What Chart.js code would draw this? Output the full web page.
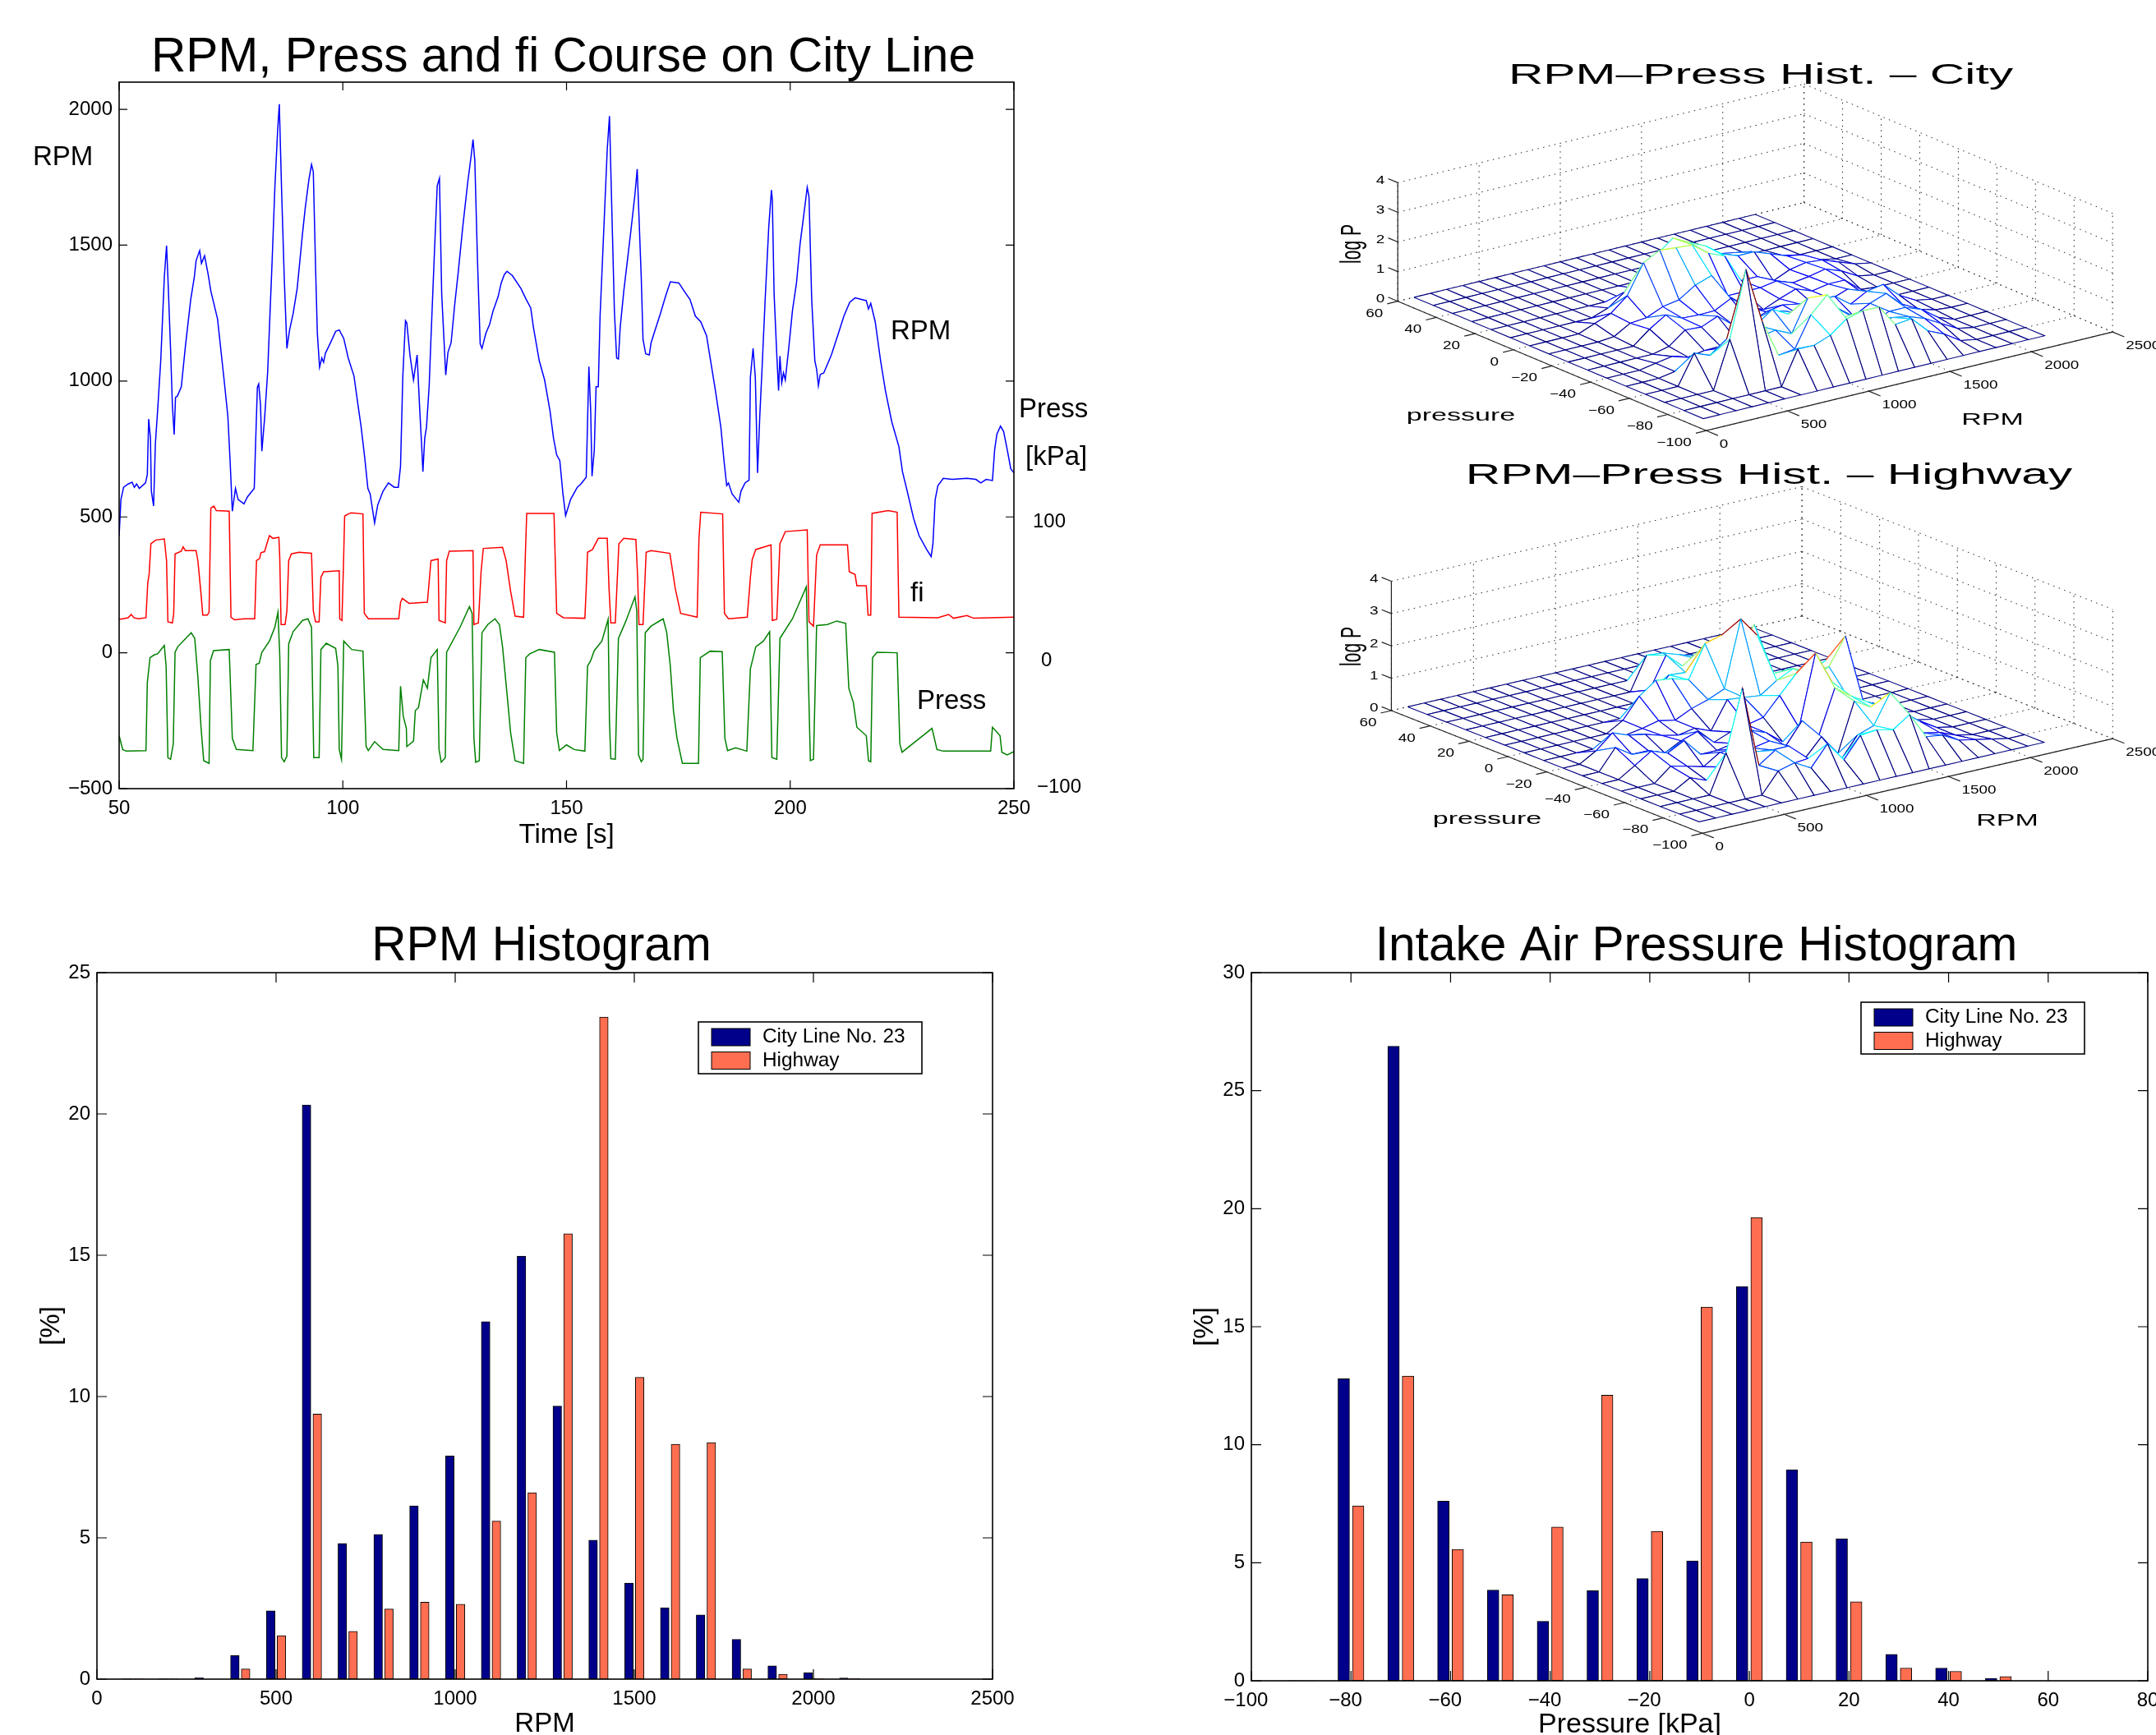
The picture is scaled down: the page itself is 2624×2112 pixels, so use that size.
<!DOCTYPE html>
<html>
<head>
<meta charset="utf-8">
<title>RPM and intake pressure charts</title>
<script src="https://cdn.jsdelivr.net/npm/chart.js@4"></script>
<style>
    html, body { margin: 0; width: 2624px; height: 2112px; background: #fff; overflow: hidden; }
    canvas { position: absolute; }
</style>
</head>
<body>
<canvas id="courseChart" width="1400" height="1100" style="left:0;top:0"></canvas>
<canvas id="cityMesh" width="1024" height="520" style="left:1600px;top:40px"></canvas>
<canvas id="highwayMesh" width="1024" height="520" style="left:1600px;top:540px"></canvas>
<canvas id="rpmHist" width="1300" height="1014" style="left:0;top:1101px"></canvas>
<canvas id="pressHist" width="1300" height="1014" style="left:1400px;top:1101px"></canvas>
<script>
// Time course, city line (left axis units, press and fi are scaled onto it)
const courseTicks = [-500,0,500,1000,1500,2000];
const rpmTime = [50,50.4,51,52,52.9,53.4,53.9,54.5,55.9,56.3,56.6,57,57.2,57.7,58.1,58.6,59.3,60.1,60.6,60.9,61.5,61.9,62.3,62.6,63,63.9,64.8,66,66.8,67.2,68,68.4,69.1,69.9,70.5,72,73.4,74.3,74.8,75.3,76,76.6,77.9,78.7,80.2,80.5,80.9,81.2,81.6,81.9,82.5,83.2,83.6,84.2,84.8,85.4,85.8,86.3,86.9,87.5,88.1,88.9,89.8,90.4,91,91.6,92.4,93,93.4,93.9,94.3,94.8,95.3,95.7,96.1,97.1,98.4,99.2,100.2,101.2,102.5,103.3,104.1,104.9,105.6,106.1,107.1,107.8,109,110.2,111.5,112.4,112.9,113.4,114,114.3,115,115.8,116.6,117.2,117.6,117.9,118.3,118.7,119.3,119.7,120.5,121.1,121.6,122.1,123,123.5,124.2,125,125.8,126.8,127.9,128.7,129.1,129.5,130.1,130.7,131.1,132,132.8,133.6,134.7,135.4,136.1,136.7,137.9,139.8,141,142,142.6,143.9,145.1,146.3,147.1,147.8,148.5,149.2,149.8,150.9,152.4,153.2,154.4,154.7,155,155.4,155.7,156.2,156.6,157.1,157.5,158.3,159.1,159.6,160.1,160.7,161.2,161.6,162,162.8,163.6,164.4,165.3,165.8,166.1,166.7,167.1,167.7,168.5,168.9,169.8,171,172.1,173.2,175.1,176.3,177.6,178.8,180,181.3,182.1,183.3,184.5,185.2,185.8,186.2,187,188.5,189,189.9,190.8,191.1,191.7,192.2,192.7,193.2,193.7,194.4,195.2,195.8,196,196.4,197,197.4,197.7,198.1,198.5,198.9,199.7,200.5,201.4,202.2,203,203.8,204.2,204.8,205.5,205.9,206.3,206.7,207.5,209.2,210.8,212,213.3,214.5,217,217.5,218,219,220.2,221.3,222.7,224.3,225.1,226,227.6,228.8,230.5,231.5,231.9,232.4,233,234.2,236.2,239.5,241.5,242.6,243.8,245.2,245.7,246.2,247,247.7,248.5,249.3,250];
const rpmValues = [431,564,609,621,628,609,621,605,625,656,860,789,595,540,769,891,1075,1382,1498,1382,1116,912,803,940,944,979,1126,1300,1382,1443,1480,1433,1461,1392,1331,1228,1014,871,707,521,605,564,548,574,605,769,977,989,912,742,860,1034,1198,1443,1709,1913,2019,1709,1382,1120,1188,1249,1341,1443,1545,1637,1739,1797,1770,1423,1177,1051,1085,1069,1102,1136,1183,1188,1157,1085,1018,922,830,717,605,585,478,544,595,625,609,609,687,1014,1222,1214,1096,1004,1096,891,769,666,789,830,983,1157,1484,1719,1746,1320,1022,1106,1141,1280,1402,1566,1729,1831,1889,1811,1443,1137,1120,1177,1208,1259,1310,1361,1392,1404,1388,1341,1300,1269,1198,1075,1004,891,789,728,707,585,505,564,609,621,646,850,1053,891,650,744,979,979,1239,1545,1852,1975,1647,1259,1085,1081,1198,1331,1443,1555,1688,1780,1647,1382,1153,1100,1096,1141,1188,1249,1310,1365,1361,1331,1300,1239,1218,1167,1085,963,830,707,615,625,585,554,595,625,636,1014,1120,1014,662,871,1044,1300,1566,1703,1668,1320,1096,965,1092,993,1030,1004,1126,1259,1361,1504,1607,1713,1678,1300,1075,1044,983,1024,1030,1096,1177,1239,1290,1306,1296,1265,1286,1218,1075,963,850,758,666,605,493,431,380,354,401,564,615,642,638,642,638,625,638,634,748,805,834,814,748,677,662];

const fiTime = [50,52,52.7,53.3,54.3,56,56.4,56.7,57.1,58.2,60.1,60.6,60.9,61.9,62.2,62.5,63.9,64.3,64.8,67.2,67.6,68.3,68.7,69.7,70.1,70.5,71.2,71.7,74.6,75,75.8,77.9,80.3,80.7,81.4,81.7,82.5,83.2,83.6,84.4,85.7,85.9,86.2,87.1,87.5,87.9,88.5,90.2,93,93.4,93.9,94.7,95.1,95.7,99.2,99.3,99.8,100.2,100.4,101.2,101.9,104.5,104.8,105.7,109,112.5,112.9,113.3,114.8,118.9,119.7,121.3,121.5,122.9,123.2,123.8,129.1,129.3,130.3,130.9,131.4,135.7,136.5,137.5,138.5,140.4,140.8,141.1,147.2,147.8,149.3,154.1,154.4,154.7,155.8,157.1,159.1,159.5,159.9,160.9,161.7,162.8,165.5,165.9,166.2,167.1,167.8,168.9,173.1,174.3,175.5,179.2,179.6,180,184.9,185.3,186.2,190.4,191.1,191.5,192.3,195.7,196,197,197.7,198.9,203.8,204.2,205.2,205.9,206.7,212.8,213.2,214.5,214.9,217,217.4,218,218.3,221.9,223.9,224.3,233,235.4,236.5,239.5,241,250];
const fiValues = [123,129,141,129,125,129,258,288,401,415,419,339,114,110,145,364,374,390,376,376,339,217,139,139,149,533,540,523,521,131,121,125,125,339,347,368,372,411,431,421,425,350,104,104,155,339,364,370,366,155,114,114,278,298,302,125,119,360,503,511,515,511,145,125,125,125,186,200,182,186,339,345,119,110,339,374,376,104,110,298,384,388,339,227,135,131,360,513,513,145,129,127,237,370,380,421,421,237,110,110,401,421,417,278,104,104,370,376,366,237,145,131,421,517,511,145,125,131,278,343,380,397,119,123,401,446,452,114,98,360,397,397,298,288,247,247,139,139,513,523,517,131,129,141,127,137,127,131];

const pressTime = [50,50.8,51.6,56,56.3,56.9,57.8,58.6,60.1,60.5,60.9,61.5,62.1,62.5,63.1,66.1,66.9,67.6,68.3,68.9,70.1,70.4,71.1,74.6,75.3,76.2,79.9,80.6,81.3,81.9,83.6,84.8,85.5,85.9,86.3,86.9,87.5,87.9,88.9,91,92.2,93,93.5,94.7,95.1,96.3,98.4,98.9,99.2,99.7,100.2,102,104.5,105.2,105.7,107.1,109,112.5,112.9,113.5,114.2,114.3,115.8,116.2,116.9,118,118.9,119.7,121.1,121.5,122,122.9,123.2,126.2,128.3,128.9,129.3,129.7,130.5,131.1,132.4,134,135,135.7,136.7,137.5,138.5,140.4,140.9,141.8,143.9,147.3,147.8,148.4,150,151.7,154.1,154.7,155.4,156.2,157.9,159.3,159.6,159.9,160.9,161.6,163.2,165.3,165.7,166.1,166.7,167.1,167.6,168.9,171.6,172.4,173.2,173.9,174.7,175.9,179.5,179.9,182.1,184.8,185.4,186,187.8,190.3,191.1,192.3,194,195.4,195.9,197,197.7,200.5,203.6,204,204.5,205.2,205.9,208.3,210.4,212.4,213.1,214.1,214.9,217,217.5,218,218.4,219.4,223.9,224.5,225,231.7,232.8,234.2,244.8,245.2,246.9,247.3,248.5,250];
const pressValues = [-305,-356,-362,-360,-110,-18,-8,-4,27,-49,-386,-392,-335,2,22,74,53,-90,-274,-397,-407,-29,8,12,-315,-356,-360,-43,-39,2,43,94,149,-8,-386,-401,-380,33,78,119,125,94,-386,-386,12,35,16,-49,-356,-392,43,12,6,-345,-360,-327,-356,-360,-123,-233,-278,-345,-325,-213,-202,-100,-131,-18,12,-356,-403,-386,2,94,170,145,-315,-403,-397,74,104,125,104,22,-151,-294,-397,-407,-18,-4,12,2,-294,-360,-339,-356,-362,-49,-29,8,43,123,-253,-390,-392,53,114,206,155,-376,-401,-392,74,98,125,74,-49,-213,-315,-407,-407,-18,6,4,-315,-360,-350,-362,-59,22,43,78,-386,-392,53,125,243,-49,-397,-392,100,104,117,108,-131,-182,-274,-305,-397,-401,-18,2,0,-335,-366,-278,-356,-362,-362,-274,-305,-366,-376,-364];

// RPM histogram, one value per 100 rpm bin [%]
const rpmBins = [100,200,300,400,500,600,700,800,900,1000,1100,1200,1300,1400,1500,1600,1700,1800,1900,2000,2100];
const rpmCity = [0.01,0.01,0.05,0.83,2.42,20.32,4.8,5.12,6.13,7.9,12.65,14.97,9.66,4.92,3.4,2.53,2.27,1.41,0.47,0.23,0.04];
const rpmHighway = [0.01,0.01,0,0.36,1.54,9.38,1.69,2.48,2.72,2.65,5.59,6.6,15.76,23.43,10.68,8.31,8.37,0.36,0.17,0.02,0.03];

// Intake pressure histogram, one value per 10 kPa bin [%]
const pressBins = [-90,-80,-70,-60,-50,-40,-30,-20,-10,0,10,20,30,40,50];
const pressCity = [0.01,12.8,26.88,7.61,3.84,2.52,3.82,4.33,5.08,16.7,8.94,6.02,1.12,0.54,0.1];
const pressHighway = [0.01,7.41,12.91,5.57,3.64,6.51,12.1,6.33,15.83,19.63,5.88,3.35,0.54,0.4,0.18];

// log P surfaces. Columns: meshRpm, rows: meshPress
const meshRpm = [100,200,300,400,500,600,700,800,900,1000,1100,1200,1300,1400,1500,1600,1700,1800,1900,2000,2100,2200];
const meshPress = [-90,-80,-70,-60,-50,-40,-30,-20,-10,0,10,20,30,40,50,60];
const cityLogP = [
    [0,0,0,0,0,0,0,0,0,0,0,0,0,0,0,0,0,0,0,0,0,0],
    [0,0,0,0,0,0,0,1.14,1.13,1.34,1.76,1.9,1.89,1.17,1.23,.69,.45,.1,0,0,0,0],
    [0,0,0,0,1.59,3.81,1.92,.66,.73,1.76,2.3,1.4,1,.9,1,.9,.7,.4,.1,0,0,0],
    [0,0,0,.99,.78,1.2,1.4,1,1.1,.85,1.92,1.2,1,.8,.6,.8,.8,.6,.2,0,0,0],
    [0,0,0,.1,.44,.3,.5,.8,1,1.4,1.1,.9,.7,.9,.5,.8,1,.5,.2,.05,0,0],
    [0,0,0,.1,.2,.04,.13,.14,.2,.4,.9,.8,.5,.9,.9,.5,.8,.9,.4,.1,0,0],
    [0,0,0,0,0,.13,.55,.52,.75,.31,.3,.5,.6,.5,.3,.4,.6,.3,.1,0,0,0],
    [0,0,0,0,0,.44,.79,.55,.52,.53,.81,.4,.17,.4,.6,.4,.5,.5,.05,0,0,0],
    [0,0,0,0,.05,.37,.42,.66,.76,1.12,1.31,.5,.5,.5,.6,.4,.48,.6,.4,.1,0,0],
    [0,0,0,0,.22,.43,.89,1.87,2.16,2.11,2.07,1.66,1.43,.47,.47,.2,.44,.55,.5,.3,.1,0],
    [0,0,0,0,0,0,.2,.6,1.2,1.6,2.03,1.75,1.5,1.1,.9,.9,.7,.5,.4,.1,0,0],
    [0,0,0,0,0,0,0,0,0,.2,.5,.8,.6,.5,.7,.6,.5,.2,.1,0,0,0],
    [0,0,0,0,0,0,0,0,0,0,0,0,0,.15,.2,.1,0,0,0,0,0,0],
    [0,0,0,0,0,0,0,0,0,0,0,0,0,0,0,0,0,0,0,0,0,0],
    [0,0,0,0,0,0,0,0,0,0,0,0,0,0,0,0,0,0,0,0,0,0],
    [0,0,0,0,0,0,0,0,0,0,0,0,0,0,0,0,0,0,0,0,0,0]
];
const highwayLogP = [
    [0,0,0,0,0,0,0,0,0,0,0,0,0,0,0,0,0,0,0,0,0,0],
    [0,0,0,0,0,0,.63,.77,.49,1.12,.51,1.15,1.2,1.09,1.44,.64,.57,.3,.2,.1,0,0],
    [0,0,0,0,1.18,3.07,.57,.92,.38,.43,0,.15,.8,.98,1.88,1.13,.4,.3,.1,0,0,0],
    [0,0,0,.3,.1,.4,.5,.64,.57,.58,.08,.63,0,1.5,1.2,1,.8,.4,.1,0,0,0],
    [0,0,0,.42,.3,.17,.5,.5,.4,.5,.22,.89,.28,1.67,1.3,1,.7,.4,.1,0,0,0],
    [0,0,.32,.65,.47,.74,.2,.2,.3,.6,.4,0,.32,2.51,1.5,.9,.5,.3,.1,0,0,0],
    [0,0,.64,.31,.31,.12,.38,.55,.1,.3,.4,.52,1.08,1.64,1.4,1.62,2.45,.32,.1,0,0,0],
    [0,0,.3,.74,.55,.46,.31,.2,.3,.1,.95,.9,.84,1.19,1.44,1.2,1.47,.9,0,0,0,0],
    [0,0,0,0,0,.2,.29,.41,.31,.55,.71,.93,2.97,2.35,1.05,1.08,.6,.3,0,0,0,0],
    [0,0,0,0,0,0,.3,.93,1.3,1.24,1.09,2.09,2.23,1.6,2.32,.5,.2,0,0,0,0,0],
    [0,0,0,0,0,0,0,0,.1,.5,1,.96,1.6,1.2,.4,.1,0,0,0,0,0,0],
    [0,0,0,0,0,0,0,0,0,0,.3,1.26,.8,.9,.6,.2,0,0,0,0,0,0],
    [0,0,0,0,0,0,0,0,0,0,0,1.02,.97,.8,.65,.2,0,0,0,0,0,0],
    [0,0,0,0,0,0,0,0,0,0,0,0,0,0,0,0,0,0,0,0,0,0],
    [0,0,0,0,0,0,0,0,0,0,0,0,0,0,0,0,0,0,0,0,0,0],
    [0,0,0,0,0,0,0,0,0,0,0,0,0,0,0,0,0,0,0,0,0,0]
];
const meshRpmTicks = [0,500,1000,1500,2000,2500];
const meshPressTicks = [-100,-80,-60,-40,-20,0,20,40,60];
const meshLogTicks = [0,1,2,3,4];

const FONT = '"Liberation Sans", Arial, sans-serif';
Chart.defaults.font.family = FONT;
Chart.defaults.color = '#000';
Chart.defaults.animation = false;
Chart.defaults.events = [];

const minus = v => String(v).replace('-', '\u2212');
// negative x labels sit a little left of their tick in the original
const minusLeft = v => minus(v) + (v < 0 ? '  ' : '');

function drawText(ctx, str, x, y, size, opts = {}) {
    ctx.save();
    ctx.translate(x, y);
    ctx.scale(opts.sx || 1, 1);
    if (opts.rot) ctx.rotate(opts.rot);
    ctx.font = size + 'px ' + FONT;
    ctx.fillStyle = '#000';
    ctx.textAlign = opts.align || 'left';
    ctx.textBaseline = opts.base || 'alphabetic';
    ctx.fillText(str, 0, 0);
    ctx.restore();
}

// MATLAB style box with ticks pointing inside, on all four sides
function boxPlugin(tickLen) {
    return {
        id: 'box',
        afterLayout(chart) {
            chart.titleBlock.left -= 8;
        },
        afterDatasetsDraw(chart) {
            const { ctx, chartArea: a, scales } = chart;
            ctx.save();
            ctx.strokeStyle = '#000';
            ctx.lineWidth = 1.6;
            ctx.strokeRect(a.left, a.top, a.right - a.left, a.bottom - a.top);
            ctx.lineWidth = 1.2;
            ctx.beginPath();
            scales.x.ticks.forEach(t => {
                const px = scales.x.getPixelForValue(t.value);
                ctx.moveTo(px, a.bottom); ctx.lineTo(px, a.bottom - tickLen);
                ctx.moveTo(px, a.top); ctx.lineTo(px, a.top + tickLen);
            });
            scales.y.ticks.forEach(t => {
                const py = scales.y.getPixelForValue(t.value);
                ctx.moveTo(a.left, py); ctx.lineTo(a.left + tickLen, py);
                ctx.moveTo(a.right, py); ctx.lineTo(a.right - tickLen, py);
            });
            ctx.stroke();
            ctx.restore();
        }
    };
}

function labelsPlugin(items) {
    return {
        id: 'labels',
        afterDraw(chart) {
            items.forEach(it => drawText(chart.ctx, it.text, it.x, it.y, it.size, it));
        }
    };
}

function legendPlugin(left, top) {
    return {
        id: 'histLegend',
        afterDatasetsDraw(chart) {
            const ctx = chart.ctx;
            ctx.save();
            ctx.fillStyle = '#fff';
            ctx.fillRect(left, top, 272, 63);
            ctx.strokeStyle = '#000';
            ctx.lineWidth = 1.6;
            ctx.strokeRect(left, top, 272, 63);
            chart.data.datasets.forEach((ds, k) => {
                ctx.fillStyle = ds.backgroundColor;
                ctx.lineWidth = 1;
                ctx.fillRect(left + 16, top + 8 + k * 28.5, 47, 21);
                ctx.strokeRect(left + 16, top + 8 + k * 28.5, 47, 21);
                drawText(ctx, ds.label, left + 78, top + 18.5 + k * 28.5, 24.4, { base: 'middle' });
            });
            ctx.restore();
        }
    };
}

// Time course chart
function pairs(xs, ys) {
    return xs.map((x, i) => ({ x: x, y: ys[i] }));
}

new Chart(document.getElementById('courseChart'), {
    type: 'scatter',
    data: {
        datasets: [
            { label: 'RPM', data: pairs(rpmTime, rpmValues), borderColor: '#0000ff' },
            { label: 'fi', data: pairs(fiTime, fiValues), borderColor: '#ff0000' },
            { label: 'Press', data: pairs(pressTime, pressValues), borderColor: '#008000' }
        ].map(d => Object.assign(d, { showLine: true, pointRadius: 0, borderWidth: 1.5, tension: 0 }))
    },
    options: {
        responsive: false,
        layout: { padding: { top: 42, right: 166, bottom: 40, left: 0 } },
        plugins: {
            legend: { display: false },
            tooltip: { enabled: false },
            title: {
                display: true, fullSize: false,
                text: 'RPM, Press and fi Course on City Line',
                font: { size: 58.6, weight: 'normal', lineHeight: 1 },
                padding: { top: 0, bottom: -0.6 }
            }
        },
        scales: {
            x: {
                type: 'linear', min: 50, max: 250,
                grid: { display: false, drawTicks: false }, border: { display: false },
                ticks: { stepSize: 50, padding: 10, maxRotation: 0, font: { size: 24 }, callback: minus },
                title: { display: true, text: 'Time [s]', font: { size: 33, lineHeight: 1 }, padding: { bottom: 27 } },
                afterFit: s => { s.height = 100; }
            },
            y: {
                min: -500, max: 2100,
                grid: { display: false, drawTicks: false }, border: { display: false },
                ticks: { padding: 8, font: { size: 24 }, callback: minus },
                afterBuildTicks: s => { s.ticks = courseTicks.map(v => ({ value: v })); },
                afterFit: s => { s.width = 145; }
            }
        }
    },
    plugins: [boxPlugin(10), labelsPlugin([
        { text: 'RPM', x: 40, y: 201, size: 33 },
        { text: 'RPM', x: 1084, y: 413, size: 33 },
        { text: 'Press', x: 1240, y: 508, size: 33 },
        { text: '[kPa]', x: 1248, y: 566, size: 33 },
        { text: '100', x: 1257, y: 635, size: 24, base: 'middle' },
        { text: '0', x: 1267, y: 804, size: 24, base: 'middle' },
        { text: '\u2212100', x: 1262, y: 958, size: 24, base: 'middle' },
        { text: 'fi', x: 1108, y: 732, size: 33 },
        { text: 'Press', x: 1116, y: 863, size: 33 }
    ])]
});

// Histograms
function histChart(id, bins, city, highway, cfg) {
    const shifted = (vals, dx) => bins.map((b, i) => ({ x: b + dx, y: vals[i] }));
    new Chart(document.getElementById(id), {
        type: 'bar',
        data: {
            datasets: [
                { label: 'City Line No. 23', data: shifted(city, -cfg.shift), backgroundColor: '#00008b' },
                { label: 'Highway', data: shifted(highway, cfg.shift), backgroundColor: '#ff6e50' }
            ].map(d => Object.assign(d, {
                grouped: false, barThickness: cfg.barWidth,
                borderColor: '#000', borderWidth: 1, borderSkipped: false
            }))
        },
        options: {
            responsive: false,
            layout: { padding: { top: 23, right: cfg.padRight, bottom: 0, left: 0 } },
            plugins: {
                legend: { display: false },
                tooltip: { enabled: false },
                title: {
                    display: true, fullSize: false,
                    text: cfg.title,
                    font: { size: 58.6, weight: 'normal', lineHeight: 1 },
                    padding: { top: 0, bottom: 1.4 }
                }
            },
            scales: {
                x: {
                    type: 'linear', offset: false, min: cfg.xMin, max: cfg.xMax,
                    grid: { display: false, drawTicks: false }, border: { display: false },
                    ticks: { stepSize: cfg.xStep, padding: 10, maxRotation: 0, font: { size: 24 }, callback: minusLeft },
                    title: cfg.xTitle
                        ? { display: true, text: cfg.xTitle, font: { size: 33, lineHeight: 1 }, padding: 0 }
                        : { display: false },
                    afterFit: s => { s.height = cfg.xHeight; }
                },
                y: {
                    min: 0, max: cfg.yMax,
                    grid: { display: false, drawTicks: false }, border: { display: false },
                    ticks: { stepSize: 5, padding: 8, font: { size: 24 } },
                    title: { display: true, text: '[%]', font: { size: 33, lineHeight: 1 }, padding: { top: cfg.yTitlePad } },
                    afterFit: s => { s.width = cfg.left; }
                }
            }
        },
        plugins: [boxPlugin(12), legendPlugin(cfg.legendLeft, cfg.legendTop), labelsPlugin(cfg.labels || [])]
    });
}

histChart('rpmHist', rpmBins, rpmCity, rpmHighway, {
    title: 'RPM Histogram', xTitle: 'RPM', shift: 15, barWidth: 10.5,
    xMin: 0, xMax: 2500, xStep: 500, yMax: 25,
    left: 118, padRight: 92, xHeight: 71, yTitlePad: 46,
    legendLeft: 850, legendTop: 143
});
histChart('pressHist', pressBins, pressCity, pressHighway, {
    title: 'Intake Air Pressure Histogram', shift: 1.45, barWidth: 14,
    xMin: -100, xMax: 80, xStep: 20, yMax: 30,
    left: 123, padRight: 86, xHeight: 69, yTitlePad: 50,
    legendLeft: 865, legendTop: 119,
    labels: [{ text: 'Pressure [kPa]', x: 472, y: 1008, size: 34 }]
});

// 3D surfaces: orthographic view, drawn as white quads back to front
function jet(t) {
    const c = v => Math.round(255 * Math.max(0, Math.min(1, v)));
    return 'rgb(' + c(1.5 - Math.abs(4 * t - 3)) + ',' + c(1.5 - Math.abs(4 * t - 2)) + ',' + c(1.5 - Math.abs(4 * t - 1)) + ')';
}

function meshChart(id, zRows, view) {
    const project = (rpm, press, logP) => ({
        x: view.ox + rpm / 2500 * view.rx + (press + 100) / 160 * view.px,
        y: view.oy + rpm / 2500 * view.ry + (press + 100) / 160 * view.py + logP / 4 * view.zy
    });
    const zMax = Math.max(...zRows.flat());
    const node = (j, i) => project(meshRpm[i], meshPress[j], zRows[j][i]);
    const col = (j, i) => jet(zRows[j][i] / zMax);
    const path = (pts, extra) => Object.assign({
        data: pts, showLine: true, pointRadius: 0, tension: 0, borderWidth: 1.1, borderColor: '#000'
    }, extra);

    const back = [];
    const dotted = { borderColor: '#222', borderWidth: 1, borderDash: [1.5, 5.5] };
    meshRpmTicks.forEach(r => {
        back.push(path([project(r, 60, 0), project(r, 60, 4)], dotted));
        back.push(path([project(r, -100, 0), project(r, 60, 0)], dotted));
    });
    meshPressTicks.forEach(p => {
        back.push(path([project(2500, p, 0), project(2500, p, 4)], dotted));
        back.push(path([project(0, p, 0), project(2500, p, 0)], dotted));
    });
    meshLogTicks.forEach(z => {
        back.push(path([project(0, 60, z), project(2500, 60, z)], dotted));
        back.push(path([project(2500, 60, z), project(2500, -100, z)], dotted));
    });

    const axis = { borderColor: '#222', borderWidth: 1.2 };
    back.push(path([project(0, 60, 0), project(0, 60, 4)], axis));
    back.push(path([project(0, 60, 0), project(0, -100, 0)], axis));
    back.push(path([project(0, -100, 0), project(2500, -100, 0)], axis));
    meshLogTicks.forEach(z => back.push(path([project(0, 60, z), project(0, 65, z)], axis)));
    meshPressTicks.forEach(p => back.push(path([project(0, p, 0), project(-65, p, 0)], axis)));
    meshRpmTicks.forEach(r => back.push(path([project(r, -100, 0), project(r, -106, 0)], axis)));

    for (let j = meshPress.length - 1; j > 0; j--) {
        for (let i = meshRpm.length - 2; i >= 0; i--) {
            const pts = [node(j, i), node(j, i + 1), node(j - 1, i + 1), node(j - 1, i), node(j, i)];
            // an edge takes the colour of its lower rpm or lower pressure node
            const edges = [col(j, i), col(j - 1, i + 1), col(j - 1, i), col(j - 1, i)];
            back.push(path(pts, { fill: 'shape', backgroundColor: '#fff', borderWidth: 0, borderColor: 'rgba(0,0,0,0)' }));
            back.push(path(pts, { segment: { borderColor: c => edges[c.p0DataIndex] } }));
        }
    }

    const items = [
        { text: view.title, x: view.titleX, y: view.titleY + 2, size: 35, sx: 1.68, align: 'center', base: 'middle' },
        { text: 'log P', x: 45.7, y: view.logY, size: 21, sx: 1.7, rot: -Math.PI / 2, align: 'center', base: 'middle' },
        { text: 'pressure', x: view.pressX, y: view.pressY + 3, size: 20, sx: 1.7, align: 'center', base: 'middle' },
        { text: 'RPM', x: view.rpmX, y: view.rpmY + 3, size: 20, sx: 1.7, align: 'center', base: 'middle' }
    ];
    const tick = { size: 14, sx: 1.35, base: 'middle' };
    meshLogTicks.forEach(z => {
        const q = project(0, 60, z);
        items.push(Object.assign({ text: String(z), x: q.x - 16, y: q.y - 2.5, align: 'right' }, tick));
    });
    meshPressTicks.forEach(p => {
        const q = project(0, p, 0);
        items.push(Object.assign({ text: minus(p), x: q.x - 18, y: q.y + 15, align: 'right' }, tick));
    });
    meshRpmTicks.forEach(r => {
        const q = project(r, -100, 0);
        items.push(Object.assign({ text: String(r), x: q.x + 16, y: q.y + 17, align: 'left' }, tick));
    });

    new Chart(document.getElementById(id), {
        type: 'scatter',
        // chart.js paints the first dataset last, so the nearest quad comes first
        data: { datasets: back.reverse() },
        options: {
            responsive: false,
            layout: { padding: 0 },
            plugins: {
                legend: { display: false },
                tooltip: { enabled: false },
                filler: { drawTime: 'beforeDatasetDraw' }
            },
            scales: {
                x: { type: 'linear', min: 0, max: 1024, display: false },
                y: { type: 'linear', min: 0, max: 520, reverse: true, display: false }
            }
        },
        plugins: [labelsPlugin(items)]
    });
}

meshChart('cityMesh', cityLogP, {
    ox: 476.8, oy: 484.2, rx: 494.4, ry: -120.1, px: -375.6, py: -157.5, zy: -144.3,
    title: 'RPM\u2013Press Hist. \u2013 City', titleX: 543, titleY: 50, logY: 257,
    pressX: 178, pressY: 463, rpmX: 825, rpmY: 468
});
meshChart('highwayMesh', highwayLogP, {
    ox: 471.6, oy: 474.3, rx: 499.7, ry: -115.1, px: -378.2, py: -149.3, zy: -157.5,
    title: 'RPM\u2013Press Hist. \u2013 Highway', titleX: 553, titleY: 37.5, logY: 247,
    pressX: 210, pressY: 454, rpmX: 843, rpmY: 456
});
</script>
</body>
</html>
